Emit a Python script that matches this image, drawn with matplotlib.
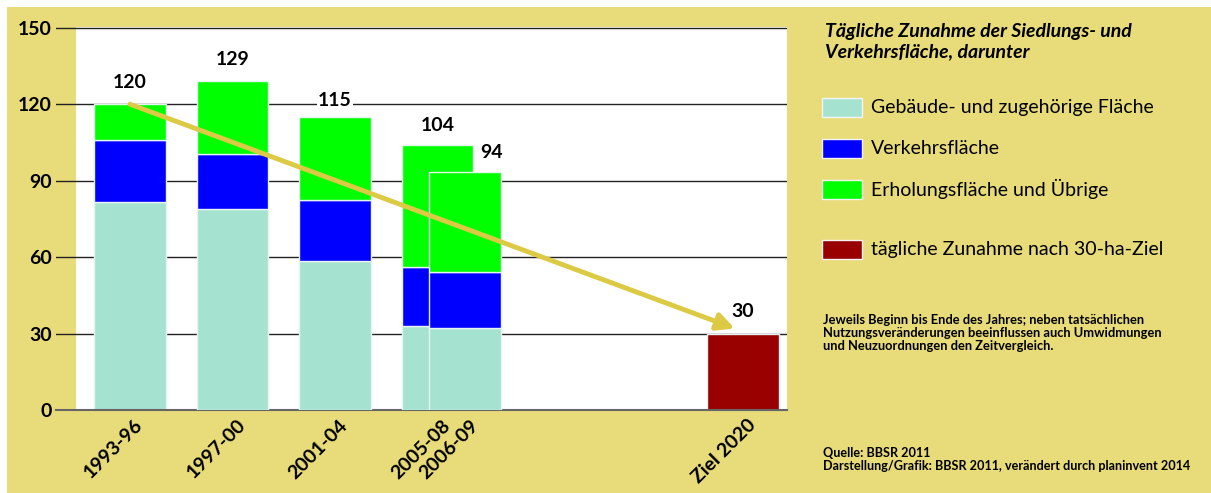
import matplotlib.pyplot as plt
import matplotlib.transforms as mtransforms
from matplotlib.patches import Rectangle

W, H = 1211, 493
plt.rcParams['font.family'] = ['Lato', 'DejaVu Sans']

# data
periods = ['1993-96', '1997-00', '2001-04', '2005-08', '2006-09', 'Ziel 2020']
gebaeude = [81.5, 79, 58.5, 33, 32]
verkehr = [24.5, 21.5, 24, 23, 22]
erholung = [14, 28.5, 32.5, 48, 39.5]
totals = [120, 129, 115, 104, 94]
ziel = 30

legend_title = 'Tägliche Zunahme der Siedlungs- und\nVerkehrsfläche, darunter'
legend_labels = ['Gebäude- und zugehörige Fläche', 'Verkehrsfläche',
                 'Erholungsfläche und Übrige', 'tägliche Zunahme nach 30-ha-Ziel']
note = ('Jeweils Beginn bis Ende des Jahres; neben tatsächlichen\n'
        'Nutzungsveränderungen beeinflussen auch Umwidmungen\n'
        'und Neuzuordnungen den Zeitvergleich.')
source = 'Quelle: BBSR 2011\nDarstellung/Grafik: BBSR 2011, verändert durch planinvent 2014'

# layout / style
positions = [0, 1, 2, 3, 3.27, 5.98]
label_dx = [0, 0, 0, 0, 0.26, 0]
label_dy = [8.5, 8.5, 6.5, 7.5, 7.0, 8.8]
BG = '#E8DB7A'
TEAL = '#A5E3D0'
BLUE = '#0000FF'
GREEN = '#00FF00'
RED = '#990000'
ARROW = '#DCC944'
colors = [TEAL, BLUE, GREEN, RED]
unit = 102.5  # pixels per x unit


def fpos(x, y):
    return x / W, 1 - y / H


fig = plt.figure(figsize=(W / 100, H / 100), dpi=100)
fig.patch.set_facecolor('white')
fig.add_artist(Rectangle(fpos(7, H), 1, 1 - 7 / H, transform=fig.transFigure,
                         facecolor=BG, edgecolor='none', zorder=-10))

ax = fig.add_axes([56 / W, (H - 410) / H, (787 - 56) / W, (410 - 27) / H])
ax.set_facecolor(BG)
ax.set_xlim(-74 / unit, (787 - 130) / unit)
ax.set_ylim(0, 150.3)
ax.axvspan(-54 / unit, ax.get_xlim()[1], color='white', zorder=0.2, lw=0)

ax.set_yticks(range(0, 151, 30))
ax.yaxis.grid(True, color='#222222', lw=1)
ax.set_axisbelow(True)
ax.tick_params(axis='y', length=0, pad=3, labelsize=14)
for s in ['top', 'right', 'left']:
    ax.spines[s].set_visible(False)
ax.spines['bottom'].set_color('#666666')
ax.spines['bottom'].set_linewidth(1.5)

# stacked bars, one bar at a time so that 2006-09 lies over 2005-08
for i in range(len(totals)):
    bottom = 0
    for vals, c in zip([gebaeude, verkehr, erholung], colors):
        ax.bar(positions[i], vals[i], bottom=bottom, width=0.7, color=c,
               edgecolor='#E6F4F0', linewidth=1, zorder=2 + i)
        bottom += vals[i]
ax.bar(positions[-1], ziel, width=0.7, color=RED, edgecolor='#E6F4F0', linewidth=1, zorder=2)

# value labels
for i, v in enumerate(totals + [ziel]):
    box = dict(facecolor='white', edgecolor='none', pad=1) if i == 2 else None
    ax.text(positions[i] + label_dx[i], v + label_dy[i], str(v), ha='center', va='center',
            fontsize=14, fontweight='bold', bbox=box, zorder=10)

# trend arrow
ax.annotate('', xy=(positions[-1] - 0.08, ziel + 2), xytext=(positions[0], totals[0]),
            arrowprops=dict(arrowstyle='-|>', color=ARROW, lw=3.5, mutation_scale=26,
                            shrinkA=0, shrinkB=0), zorder=9)

ax.set_xticks(positions)
ax.set_xticklabels(periods, rotation=45, ha='right', va='center', rotation_mode='anchor',
                   fontsize=14, fontweight='bold')
ax.tick_params(axis='x', length=0, pad=9)
offset = mtransforms.ScaledTranslation(0.10, 0, fig.dpi_scale_trans)
for lbl in ax.get_xticklabels():
    lbl.set_transform(lbl.get_transform() + offset)
for lbl in ax.get_yticklabels():
    lbl.set_fontweight('bold')

# legend on the right
fig.text(*fpos(825, 23), legend_title, ha='left', va='top', fontsize=14,
         style='italic', fontweight='bold', linespacing=1.2)
for yc, c, txt in zip([108, 148, 189, 249], colors, legend_labels):
    fig.add_artist(Rectangle(fpos(822, yc + 9.5), 40 / W, 19 / H, transform=fig.transFigure,
                             facecolor=c, edgecolor='#F4F4F4', linewidth=1))
    fig.text(*fpos(871, yc), txt, ha='left', va='center', fontsize=14)

fig.text(*fpos(823, 314), note, ha='left', va='top', fontsize=9.3, fontweight='bold',
         linespacing=1.1)
fig.text(*fpos(823, 447), source, ha='left', va='top', fontsize=9.1, fontweight='bold',
         linespacing=1.1)

fig.savefig('out.png', dpi=100)
